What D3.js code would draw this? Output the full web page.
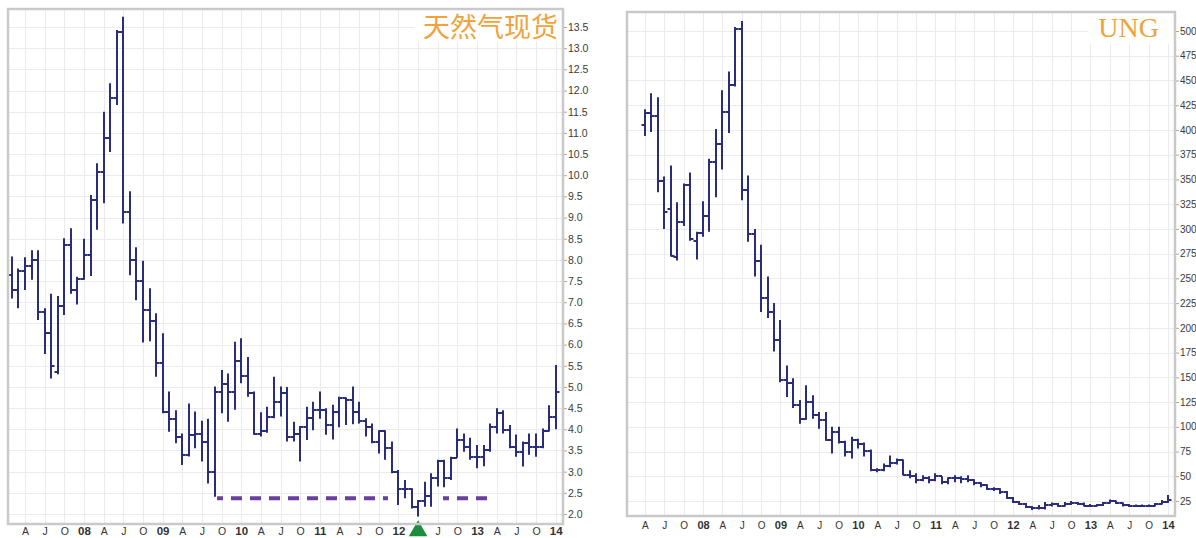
<!DOCTYPE html>
<html><head><meta charset="utf-8">
<script src="https://cdn.jsdelivr.net/npm/d3@7"></script>
<style>body{margin:0;background:#fff}svg{display:block}</style>
</head><body><svg id="c" width="1196" height="538"></svg>
<script>
// month index: 0 = Jan 2007
const quarterTicks = [3,6,9,12,15,18,21,24,27,30,33,36,39,42,45,48,51,54,57,60,63,66,69,72,75,78,81,84];
const quarterLabels = ["A","J","O","08","A","J","O","09","A","J","O","10","A","J","O","11","A","J","O","12","A","J","O","13","A","J","O","14"];

// 天然气现货 monthly OHLC, Feb 2007 .. Jan 2014
const gasStart = 1;
const gasOpen = [7.64,7.30,7.75,7.85,8.00,6.78,6.27,5.35,6.90,8.35,7.28,
 7.55,8.12,9.41,10.08,10.87,11.82,13.38,9.14,8.00,7.50,6.82,6.55,
 5.57,4.42,4.25,3.83,3.39,3.86,3.88,3.71,2.98,4.87,5.07,4.87,
 5.62,5.27,4.85,3.90,3.95,4.30,4.65,4.85,3.83,3.90,4.06,4.26,
 4.46,4.46,4.10,4.42,4.73,4.70,4.40,4.20,4.06,3.71,3.95,3.57,
 3.00,2.58,2.58,2.17,2.30,2.43,2.84,3.24,2.84,3.33,3.75,3.59,
 3.35,3.35,3.51,4.06,4.38,3.98,3.59,3.47,3.67,3.59,3.59,3.97,
 4.30];
const gasHigh = [8.08,7.80,8.06,8.23,8.23,6.86,7.20,7.15,8.51,8.75,7.60,
 8.50,9.53,10.28,11.50,12.17,13.43,13.74,9.62,8.30,7.98,7.33,6.74,
 6.27,4.89,4.45,3.90,4.61,4.42,4.20,4.25,5.01,5.40,5.32,6.07,
 6.15,5.71,4.89,4.40,4.53,5.24,5.01,5.00,4.18,4.08,4.53,4.65,
 4.89,4.50,4.58,4.77,4.75,5.01,4.65,4.26,4.14,3.98,3.98,3.71,
 3.04,2.80,2.61,2.33,2.76,2.96,3.28,3.28,3.35,4.02,3.90,3.80,
 3.63,3.63,4.14,4.50,4.45,4.10,3.88,3.71,3.90,3.90,4.02,4.57,
 5.52];
const gasLow = [7.09,6.86,7.29,7.53,6.58,5.78,5.20,5.30,6.70,7.20,6.95,
 7.53,7.62,8.71,9.34,10.55,11.66,8.86,7.64,7.05,6.05,6.08,5.24,
 4.38,3.94,3.67,3.16,3.36,3.55,3.24,2.72,2.41,4.38,4.18,4.46,
 5.09,4.77,3.87,3.83,3.92,4.26,4.30,3.71,3.71,3.24,3.75,3.98,
 4.25,3.87,3.76,4.05,4.10,4.12,4.14,3.83,3.67,3.43,3.28,2.96,
 2.21,2.37,2.13,1.94,2.17,2.17,2.65,2.63,2.80,3.33,3.47,3.28,
 3.08,3.13,3.47,3.90,3.90,3.55,3.35,3.12,3.40,3.35,3.55,3.95,
 4.00];
const gasClose = [7.30,7.75,7.85,8.00,6.78,6.27,5.50,6.90,8.35,7.28,7.55,
 8.12,9.41,10.08,10.87,11.82,13.38,9.14,8.00,7.50,6.82,6.55,5.57,
 4.42,4.25,3.83,3.39,3.86,3.88,3.71,2.98,4.87,5.07,4.87,5.62,
 5.27,4.85,3.90,3.95,4.30,4.65,4.85,3.83,3.90,4.06,4.26,4.46,
 4.46,4.10,4.42,4.73,4.70,4.40,4.20,4.06,3.71,3.95,3.57,3.00,
 2.58,2.58,2.17,2.30,2.43,2.84,3.24,2.84,3.33,3.75,3.59,3.35,
 3.35,3.51,4.06,4.38,3.98,3.59,3.47,3.67,3.59,3.59,3.97,4.30,
 4.89];
const gasTicks = d3.range(2, 13.51, 0.5);
const supportLevel = 2.37;
const supportSegments = [[32.3, 58.4], [66.8, 74.7]];
const lowMarkMonth = 63; // Apr 2012

// UNG monthly OHLC, Apr 2007 .. Jan 2014
const ungStart = 3;
const ungOpen = [405,417,414,348,320,272,307,344,288,
 296,313,368,386,418,445,502,339,295,268,230,216,
 188,147,144,122,108,125,112,107,87,95,85,75,
 87,83,76,56,56,60,63,66,51,50,46,48,
 46,50,44,48,48,47,46,43,41,37,37,34,
 28,24,22,19,17.5,18,21,22,20,22,23,22,
 20,20,20.5,23,25,23,21,20,20,20,20,22,
 23.5];
const ungHigh = [421,437,433,353,364,327,346,357,297,
 328,371,401,440,459,504,510,354,300,284,252,225,
 208,162,149,127,142,132,115,115,100,100,86,90,
 88,84,77,58,63,71,68,67,56,53,51,50,
 53,50,49,51,50,51,47,44,42,39,38,35,
 29,25,23,20,21,24,23.5,23,24,25,24,23.5,
 22,22,24,26.5,25.5,23.5,22,21.5,21.5,21.5,23,26,
 31];
const ungLow = [394,398,337,300,272,268,303,288,269,
 292,297,332,360,397,444,329,287,252,216,210,176,
 145,130,119,103,107,108,98,86,73,83,70,68,
 78,70,55,54,55,59,62,51,48,43,45,43,
 45,42,42,44,43,44,41,39,36,35,32,27,
 23,21,18,16,16.5,16.5,19.5,19,19.5,21,21,19.5,
 19.5,19.5,20,22.5,22,19.5,19,19,19.5,19,19.5,21.5,
 23];
const ungClose = [417,414,348,317,273,307,344,290,296,
 313,368,386,418,445,502,339,295,268,230,216,188,
 147,144,122,108,125,112,107,87,95,85,75,87,
 83,76,56,56,60,63,66,51,50,46,48,46,
 50,44,48,48,47,46,43,41,37,37,34,28,
 24,22,19,17.5,18,21,22,20,22,23,22,20,
 20,20.5,23,25,23,21,20,20,20,20,22,23.5,
 26];
const ungTicks = d3.range(25, 501, 25);

const svg = d3.select("#c");
const BAR = "#2a2c7e";

function panel(o) {
  const g = svg.append("g");
  const x = d3.scaleLinear().domain(o.xDomain).range([o.left, o.right]);
  const y = d3.scaleLinear().domain(o.yDomain).range(o.yRange);
  const px = v => Math.round(x(v));
  const py = v => Math.round(y(v)) + 0.5;

  // grid
  g.append("g").selectAll("line").data(o.yTicks).join("line")
    .attr("x1", o.left).attr("x2", o.right)
    .attr("y1", py).attr("y2", py)
    .attr("stroke", "#ebebeb").attr("stroke-width", 1);
  g.append("g").selectAll("line").data(quarterTicks).join("line")
    .attr("x1", d => px(d) + 0.5).attr("x2", d => px(d) + 0.5)
    .attr("y1", o.top).attr("y2", o.bottom)
    .attr("stroke", "#ebebeb").attr("stroke-width", 1);

  // title with white backing
  g.append("rect").attr("x", o.titleBox[0]).attr("y", o.titleBox[1])
    .attr("width", o.titleBox[2]).attr("height", o.titleBox[3]).attr("fill", "#fff");
  g.append("text").attr("x", o.titleX).attr("y", o.titleY)
    .attr("text-anchor", "end").attr("fill", "#efa33a")
    .attr("font-family", o.titleFont).attr("font-size", o.titleSize)
    .text(o.title);

  // annotation (drawn under bars)
  if (o.extra) o.extra(g, x, y);

  // OHLC bars
  const data = o.open.map((d, i) => ({m: o.start + i, o: d, h: o.high[i], l: o.low[i], c: o.close[i]}));
  g.append("g").selectAll("path").data(data).join("path")
    .attr("d", d => {
      const cx = px(d.m);
      return `M${cx},${y(d.h)}V${y(d.l)}M${cx - 3.5},${Math.round(y(d.o))}H${cx}M${cx},${Math.round(y(d.c))}H${cx + 3.5}`;
    })
    .attr("fill", "none").attr("stroke", BAR).attr("stroke-width", 2);

  // frame
  g.append("rect").attr("x", o.left).attr("y", o.top)
    .attr("width", o.right - o.left).attr("height", o.bottom - o.top)
    .attr("fill", "none").attr("stroke", "#c9c9c9").attr("stroke-width", 2.5);

  // y axis (right)
  const ya = g.append("g").attr("transform", `translate(${o.right + 1},0)`)
    .call(d3.axisRight(y).tickValues(o.yTicks).tickSize(3).tickPadding(1).tickFormat(o.fmt));
  ya.select(".domain").remove();
  ya.selectAll("line").attr("stroke", "#aaa");
  ya.selectAll("text").attr("font-family", "Liberation Sans, Arial, sans-serif")
    .attr("font-size", o.yFont).attr("fill", "#3a3a3a");

  // x axis labels
  const isYear = t => /\d/.test(quarterLabels[quarterTicks.indexOf(t)]);
  const xt = quarterTicks.filter(t => !(o.skip || []).includes(t));
  const xa = g.append("g").attr("transform", `translate(0,${o.labelY})`)
    .call(d3.axisBottom(x).tickValues(xt).tickSize(0).tickPadding(0)
      .tickFormat(t => quarterLabels[quarterTicks.indexOf(t)]));
  xa.select(".domain").remove();
  xa.selectAll("text").attr("dy", "0.35em").attr("y", 0)
    .attr("font-family", "Liberation Sans, Arial, sans-serif")
    .attr("fill", "#333")
    .attr("font-size", t => isYear(t) ? o.xFont + 1 : o.xFont)
    .attr("font-weight", t => isYear(t) ? "bold" : "normal");
  return {x, y};
}

panel({
  left: 8, right: 563, top: 9, bottom: 524,
  xDomain: [0.4, 85.12], yDomain: [2, 13.5], yRange: [514, 27],
  yTicks: gasTicks, fmt: d3.format(".1f"), yFont: 10.5, xFont: 10.5, labelY: 531,
  start: gasStart, open: gasOpen, high: gasHigh, low: gasLow, close: gasClose,
  title: "天然气现货", titleX: 558, titleY: 37, titleSize: 27,
  titleFont: "Noto Sans CJK SC, sans-serif", titleBox: [414, 10, 148, 31],
  skip: [lowMarkMonth],
  extra: (g, x, y) => {
    g.append("g").selectAll("line").data(supportSegments).join("line")
      .attr("x1", d => x(d[0])).attr("x2", d => x(d[1]))
      .attr("y1", y(supportLevel)).attr("y2", y(supportLevel))
      .attr("stroke", "#6a3fa0").attr("stroke-width", 4)
      .attr("stroke-dasharray", "11,8").attr("stroke-dashoffset", 5);
    g.append("path").attr("d", d3.symbol(d3.symbolTriangle, 150)())
      .attr("transform", `translate(${x(lowMarkMonth)},531)`)
      .attr("fill", "#1e8e3e");
  }
});

panel({
  left: 627, right: 1175, top: 12, bottom: 516,
  xDomain: [0.23, 85.09], yDomain: [25, 500], yRange: [501, 31],
  yTicks: ungTicks, fmt: d3.format("d"), yFont: 10, xFont: 10, labelY: 525,
  start: ungStart, open: ungOpen, high: ungHigh, low: ungLow, close: ungClose,
  title: "UNG", titleX: 1159, titleY: 37, titleSize: 28,
  titleFont: "Liberation Serif, Times New Roman, serif", titleBox: [1088, 13, 86, 31]
});
</script>
</body></html>
